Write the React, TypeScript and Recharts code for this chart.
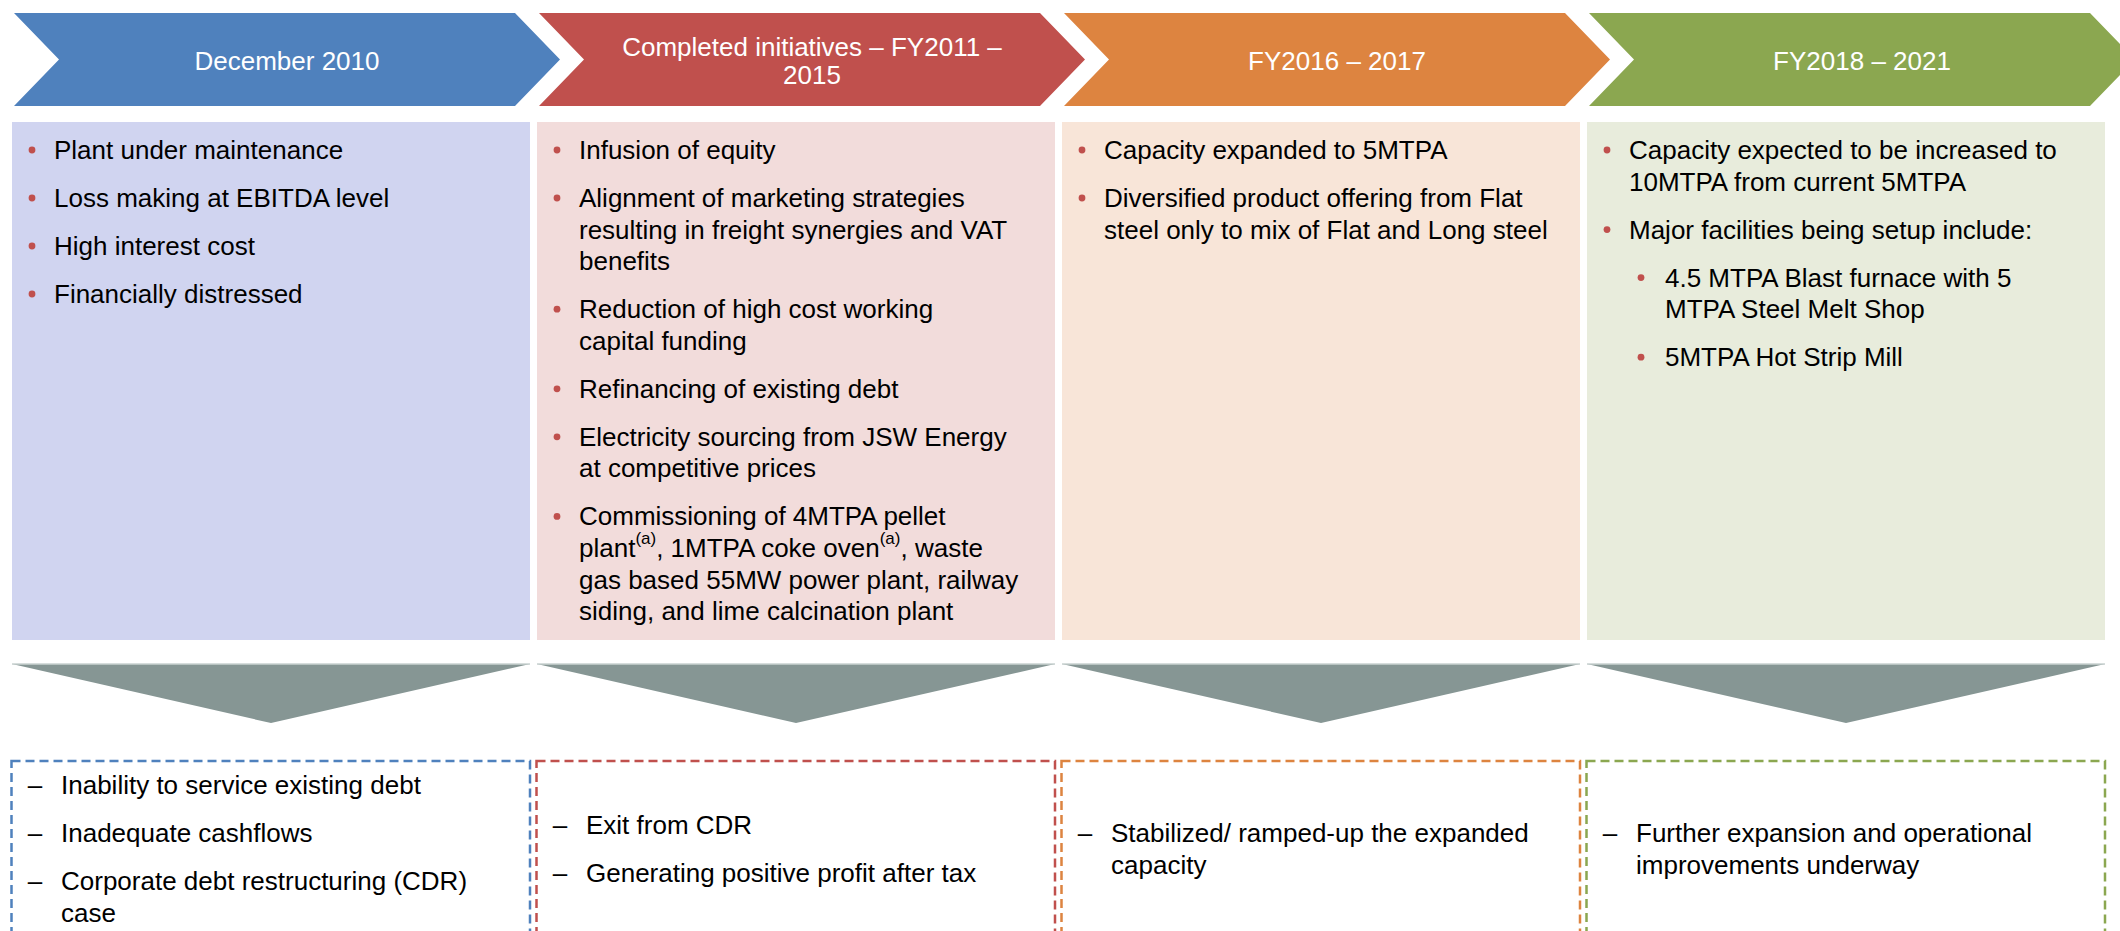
import React from 'react';

import { Bar, BarChart, XAxis, YAxis } from 'recharts';

// categories (one column per phase)
const phases = ['December 2010', 'Completed initiatives – FY2011 – 2015', 'FY2016 – 2017', 'FY2018 – 2021'];

// chevron titles, already broken into lines as in the slide
const phaseTitles = [
  ['December 2010'],
  ['Completed initiatives – FY2011 –', '2015'],
  ['FY2016 – 2017'],
  ['FY2018 – 2021'],
];

type Point = { lines: string[]; sub?: boolean };

// bullet points in the coloured boxes; {..} marks a superscript
const highlights: Point[][] = [
  [
    { lines: ['Plant under maintenance'] },
    { lines: ['Loss making at EBITDA level'] },
    { lines: ['High interest cost'] },
    { lines: ['Financially distressed'] },
  ],
  [
    { lines: ['Infusion of equity'] },
    { lines: ['Alignment of marketing strategies', 'resulting in freight synergies and VAT', 'benefits'] },
    { lines: ['Reduction of high cost working', 'capital funding'] },
    { lines: ['Refinancing of existing debt'] },
    { lines: ['Electricity sourcing from JSW Energy', 'at competitive prices'] },
    {
      lines: [
        'Commissioning of 4MTPA pellet',
        'plant{(a)}, 1MTPA coke oven{(a)}, waste',
        'gas based 55MW power plant, railway',
        'siding, and lime calcination plant',
      ],
    },
  ],
  [
    { lines: ['Capacity expanded to 5MTPA'] },
    { lines: ['Diversified product offering from Flat', 'steel only to mix of Flat and Long steel'] },
  ],
  [
    { lines: ['Capacity expected to be increased to', '10MTPA from current 5MTPA'] },
    { lines: ['Major facilities being setup include:'] },
    { lines: ['4.5 MTPA Blast furnace with 5', 'MTPA Steel Melt Shop'], sub: true },
    { lines: ['5MTPA Hot Strip Mill'], sub: true },
  ],
];

// outcome lines in the dashed boxes
const outcomes: string[][][] = [
  [['Inability to service existing debt'], ['Inadequate cashflows'], ['Corporate debt restructuring (CDR)', 'case']],
  [['Exit from CDR'], ['Generating positive profit after tax']],
  [['Stabilized/ ramped-up the expanded', 'capacity']],
  [['Further expansion and operational', 'improvements underway']],
];

const palette = [
  { head: '#4F81BD', body: '#D0D4F0' },
  { head: '#C0504D', body: '#F2DCDB' },
  { head: '#DD8440', body: '#F8E5D8' },
  { head: '#8BA750', body: '#E8ECDC' },
];

const FONT = "'Liberation Sans', Arial, sans-serif";
const FS = 26;

const L = {
  headTop: 13,
  headBottom: 106,
  arrow: 45,
  headLine: 27.5,
  bodyTop: 122,
  bodyBottom: 640,
  firstLine: 150,
  lineH: 31.6,
  itemGap: 16.4,
  triTop: 664,
  triBottom: 723,
  outTop: 761,
  outMid: 849,
  outLineH: 32,
  outGap: 16,
};

const data = phases.map((phase, i) => ({ phase, span: 1, idx: i }));

const renderLine = (line: string) => {
  const parts = line.split(/\{([^}]*)\}/);
  const out: JSX.Element[] = [];
  let shifted = false;
  parts.forEach((p, k) => {
    if (k % 2 === 1) {
      out.push(
        <tspan key={k} fontSize={17} dy={-10}>
          {p}
        </tspan>
      );
      shifted = true;
    } else if (p) {
      out.push(
        <tspan key={k} dy={shifted ? 10 : 0}>
          {p}
        </tspan>
      );
      shifted = false;
    }
  });
  return out;
};

const PhaseColumn = (props: any) => {
  const { x, y, width } = props;
  const i = props.payload?.idx ?? props.index ?? 0;
  const c = palette[i];

  // chevron
  const left = x + 2;
  const right = x + 503;
  const tip = right + L.arrow;
  const notch = left + L.arrow;
  const yT = y + L.headTop;
  const yB = y + L.headBottom;
  const yM = (yT + yB) / 2;
  const chevron = `M${left},${yT} L${right},${yT} L${tip},${yM} L${right},${yB} L${left},${yB} L${notch},${yM} Z`;
  const titles = phaseTitles[i];
  const titleX = (notch + right) / 2;

  // bullets
  const bulletEls: JSX.Element[] = [];
  let ly = y + L.firstLine;
  highlights[i].forEach((pt, k) => {
    const bx = x + (pt.sub ? 54 : 20);
    const tx = x + (pt.sub ? 78 : 42);
    bulletEls.push(<circle key={`b${k}`} cx={bx} cy={ly} r={3.4} fill="#C0504D" />);
    pt.lines.forEach((line, j) => {
      bulletEls.push(
        <text key={`t${k}-${j}`} x={tx} y={ly} fontSize={FS} fontFamily={FONT} fill="#000" dominantBaseline="central">
          {renderLine(line)}
        </text>
      );
      if (j < pt.lines.length - 1) ly += L.lineH;
    });
    ly += L.lineH + L.itemGap;
  });

  // outcomes, vertically centred in the dashed box
  const items = outcomes[i];
  const nLines = items.reduce((s, it) => s + it.length, 0);
  const span = (nLines - items.length) * L.outLineH + (items.length - 1) * (L.outLineH + L.outGap);
  let oy = y + L.outMid - span / 2;
  const outEls: JSX.Element[] = [];
  items.forEach((it, k) => {
    outEls.push(
      <text key={`d${k}`} x={x + 23} y={oy} fontSize={FS} fontFamily={FONT} fill="#000" textAnchor="middle" dominantBaseline="central">
        –
      </text>
    );
    it.forEach((line, j) => {
      outEls.push(
        <text key={`o${k}-${j}`} x={x + 49} y={oy} fontSize={FS} fontFamily={FONT} fill="#000" dominantBaseline="central">
          {line}
        </text>
      );
      if (j < it.length - 1) oy += L.outLineH;
    });
    oy += L.outLineH + L.outGap;
  });

  return (
    <g>
      <path d={chevron} fill={c.head} />
      {titles.map((t, j) => (
        <text
          key={`h${j}`}
          x={titleX}
          y={yM + 1.5 + (j - (titles.length - 1) / 2) * L.headLine}
          fontSize={FS}
          fontFamily={FONT}
          fill="#fff"
          textAnchor="middle"
          dominantBaseline="central"
        >
          {t}
        </text>
      ))}
      <rect x={x} y={y + L.bodyTop} width={width} height={L.bodyBottom - L.bodyTop} fill={c.body} />
      {bulletEls}
      <path
        d={`M${x},${y + L.triTop} L${x + width},${y + L.triTop} L${x + width / 2},${y + L.triBottom} Z`}
        fill="#869694"
      />
      <line x1={x} y1={y + L.triTop} x2={x + width} y2={y + L.triTop} stroke="#C9D2D0" strokeWidth={1.5} />
      <rect
        x={x - 0.5}
        y={y + L.outTop}
        width={width + 0.5}
        height={220}
        fill="none"
        stroke={c.head}
        strokeWidth={2.5}
        strokeDasharray="9 5"
      />
      {outEls}
    </g>
  );
};

const App: React.FC = (): JSX.Element => (
  <div style={{ position: 'absolute', left: 0, top: 0, width: 2120, height: 931, background: '#fff' }}>
    <BarChart width={2120} height={931} data={data} margin={{ top: 0, right: 12, bottom: 0, left: 8 }}>
      <XAxis dataKey="phase" hide />
      <YAxis hide domain={[0, 1]} />
      <Bar dataKey="span" barSize={518} shape={PhaseColumn} isAnimationActive={false} />
    </BarChart>
  </div>
);

export default App;
